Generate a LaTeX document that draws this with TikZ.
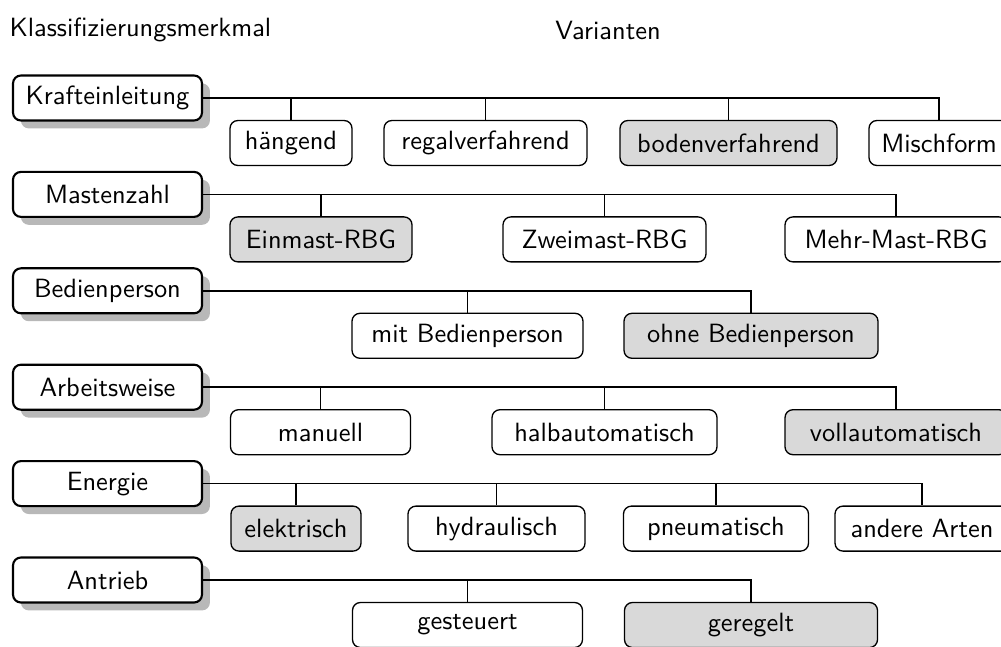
\documentclass[tikz,border=0pt]{standalone}
\usetikzlibrary{shadows}
\def\pxu{0.3788pt}
\begin{document}
\begin{tikzpicture}[x=0.3788pt,y=-0.3788pt,
  every node/.style={font=\sffamily},
  parentbox/.style={draw, line width=0.8pt, rounded corners=3pt, fill=white,
    minimum width=189*\pxu, minimum height=45*\pxu, inner xsep=1pt,
    drop shadow={fill=black!28, opacity=1, shadow xshift=3pt, shadow yshift=-3pt}},
  childbox/.style={draw, line width=0.5pt, rounded corners=3pt, fill=white,
    minimum height=45*\pxu, inner xsep=2pt},
  hl/.style={fill=black!15},
  conn/.style={line width=0.6pt}]
\useasboundingbox (0,0) rectangle (1001,646);

\node[anchor=west, inner sep=0pt] (h1) at (9,30) {Klassifizierungsmerkmal};
\node[inner sep=0pt] (h2) at (608,30) {Varianten};

% parents
\node[parentbox] (p1) at (107.5,98) {Krafteinleitung};
\node[parentbox] (p2) at (107.5,194.4) {Mastenzahl};
\node[parentbox] (p3) at (107.5,290.8) {Bedienperson};
\node[parentbox] (p4) at (107.5,387.2) {Arbeitsweise};
\node[parentbox] (p5) at (107.5,483.6) {Energie};
\node[parentbox] (p6) at (107.5,580) {Antrieb};

% row 1
\node[childbox, minimum width=122*\pxu] (c11) at (291,143) {hängend};
\node[childbox, minimum width=203*\pxu] (c12) at (485.5,143) {regalverfahrend};
\node[childbox, hl, minimum width=217*\pxu] (c13) at (728.5,143) {bodenverfahrend};
\node[childbox, minimum width=140*\pxu] (c14) at (939,143) {Mischform};
% row 2
\node[childbox, hl, minimum width=182*\pxu] (c21) at (321,239.4) {Einmast-RBG};
\node[childbox, minimum width=203*\pxu] (c22) at (604.5,239.4) {Zweimast-RBG};
\node[childbox, minimum width=222*\pxu] (c23) at (896,239.4) {Mehr-Mast-RBG};
% row 3
\node[childbox, minimum width=231*\pxu] (c31) at (467.5,335.8) {mit Bedienperson};
\node[childbox, hl, minimum width=254*\pxu] (c32) at (751,335.8) {ohne Bedienperson};
% row 4
\node[childbox, minimum width=180*\pxu] (c41) at (320.5,432.2) {manuell};
\node[childbox, minimum width=225*\pxu] (c42) at (604.5,432.2) {halbautomatisch};
\node[childbox, hl, minimum width=222*\pxu] (c43) at (896,432.2) {vollautomatisch};
% row 5
\node[childbox, hl, minimum width=130*\pxu] (c51) at (296,528.6) {elektrisch};
\node[childbox, minimum width=177*\pxu] (c52) at (496.5,528.6) {hydraulisch};
\node[childbox, minimum width=185*\pxu] (c53) at (716,528.6) {pneumatisch};
\node[childbox, minimum width=174*\pxu] (c54) at (922,528.6) {andere Arten};
% row 6
\node[childbox, minimum width=230*\pxu] (c61) at (467.5,625) {gesteuert};
\node[childbox, hl, minimum width=253*\pxu] (c62) at (751,625) {geregelt};

% connectors
\foreach \c in {c11,c12,c13,c14} \draw[conn] (p1.east) -| (\c.north);
\foreach \c in {c21,c22,c23} \draw[conn] (p2.east) -| (\c.north);
\foreach \c in {c31,c32} \draw[conn] (p3.east) -| (\c.north);
\foreach \c in {c41,c42,c43} \draw[conn] (p4.east) -| (\c.north);
\foreach \c in {c51,c52,c53,c54} \draw[conn] (p5.east) -| (\c.north);
\foreach \c in {c61,c62} \draw[conn] (p6.east) -| (\c.north);
\end{tikzpicture}
\end{document}
